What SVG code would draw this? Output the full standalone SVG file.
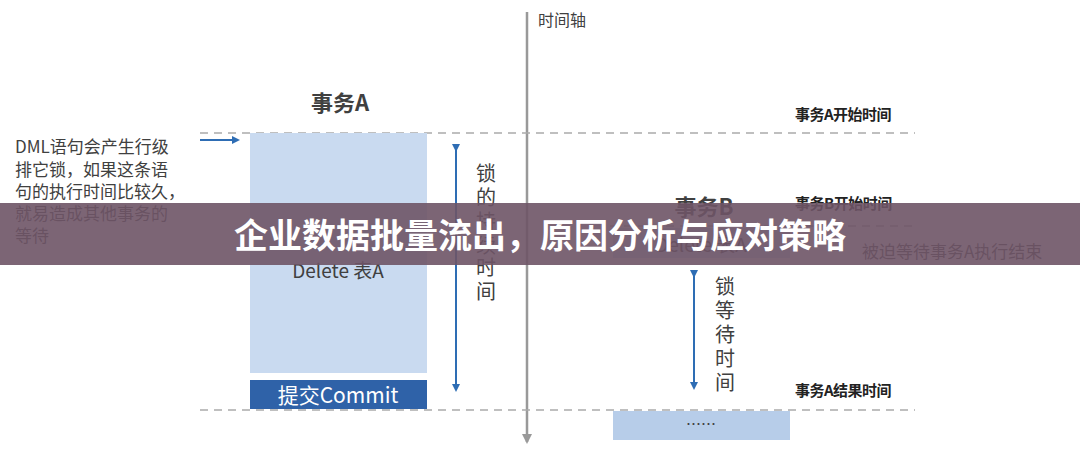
<svg xmlns="http://www.w3.org/2000/svg" width="1080" height="468" viewBox="0 0 1080 468">
<style>
text{font-family:"Noto Sans CJK SC","Liberation Sans",sans-serif;fill:#404040}
.lbl{font-size:15px;font-weight:bold;fill:#222;letter-spacing:-0.5px}
.dash{stroke:#aaa;stroke-width:1.5;stroke-dasharray:8 6;fill:none}
.note{font-size:17px}
.vt{font-size:20px}
</style>
<defs>
<marker id="ab" markerWidth="8" markerHeight="8" refX="6" refY="4" orient="auto" markerUnits="userSpaceOnUse"><path d="M0,0 L8,4 L0,8 z" fill="#2e6db4"/></marker>
<marker id="ag" markerWidth="10" markerHeight="10" refX="8" refY="5" orient="auto" markerUnits="userSpaceOnUse"><path d="M0,0 L10,5 L0,10 z" fill="#999"/></marker>
</defs>
<rect width="1080" height="468" fill="#fff"/>
<g id="connectors">
<line x1="527" y1="12" x2="527" y2="442" stroke="#999" stroke-width="2.5" marker-end="url(#ag)"/>
<line class="dash" x1="200" y1="133" x2="915" y2="133"/>
<line class="dash" x1="610" y1="226" x2="915" y2="226"/>
<line class="dash" x1="200" y1="410" x2="915" y2="410"/>
<line x1="200" y1="140" x2="238" y2="140" stroke="#2e6db4" stroke-width="2" marker-end="url(#ab)"/>
<line x1="456" y1="150" x2="456" y2="390" stroke="#2e6db4" stroke-width="2" marker-start="url(#ab)" marker-end="url(#ab)"/>
<line x1="694" y1="276" x2="694" y2="388" stroke="#2e6db4" stroke-width="2" marker-start="url(#ab)" marker-end="url(#ab)"/>
</g>
<g id="axis-label"><text x="538" y="26" font-size="16">时间轴</text></g>
<g id="labels">
<text class="lbl" x="795" y="120">事务A开始时间</text>
<text class="lbl" x="795" y="209">事务B开始时间</text>
<text class="lbl" x="795" y="396">事务A结果时间</text>
<text x="862" y="258" font-size="17">被迫等待事务A执行结束</text>
</g>
<g id="note">
<text class="note" x="15" y="153">DML语句会产生行级</text>
<text class="note" x="15" y="176">排它锁，如果这条语</text>
<text class="note" x="15" y="198">句的执行时间比较久，</text>
<text class="note" x="15" y="220">就易造成其他事务的</text>
<text class="note" x="15" y="242">等待</text>
</g>
<g id="txA">
<text x="340" y="111" font-size="22" font-weight="bold" fill="#222" text-anchor="middle">事务A</text>
<rect x="250" y="133" width="177" height="240" fill="#c9daf0"/>
<text x="338" y="278" font-size="19" text-anchor="middle">Delete 表A</text>
</g>
<g id="commit">
<rect x="250" y="380" width="177" height="29" fill="#2f62a8"/>
<text x="338" y="403" font-size="21" text-anchor="middle" style="fill:#fff">提交Commit</text>
</g>
<g id="lockA">
<text class="vt" x="486" y="181" text-anchor="middle">锁</text>
<text class="vt" x="486" y="205" text-anchor="middle">的</text>
<text class="vt" x="486" y="229" text-anchor="middle">持</text>
<text class="vt" x="486" y="253" text-anchor="middle">续</text>
<text class="vt" x="486" y="275" text-anchor="middle">时</text>
<text class="vt" x="486" y="299" text-anchor="middle">间</text>
</g>
<g id="txB">
<text x="704" y="215" font-size="22" font-weight="bold" fill="#222" text-anchor="middle">事务B</text>
<rect x="613" y="228" width="177" height="30" fill="#c9daf0"/>
<text x="701" y="252" font-size="19" text-anchor="middle">Delete 表A</text>
</g>
<g id="lockB">
<text class="vt" x="725" y="294" text-anchor="middle">锁</text>
<text class="vt" x="725" y="318" text-anchor="middle">等</text>
<text class="vt" x="725" y="342" text-anchor="middle">待</text>
<text class="vt" x="725" y="366" text-anchor="middle">时</text>
<text class="vt" x="725" y="390" text-anchor="middle">间</text>
</g>
<g id="boxB2">
<rect x="613" y="411" width="177" height="29" fill="#b7cde9"/>
<text x="701" y="430" font-size="15" text-anchor="middle">……</text>
</g>
<g id="banner">
<rect x="0" y="203" width="1080" height="62" fill="#6e5466" opacity="0.9"/>
<text x="540" y="248" font-size="34" font-weight="bold" text-anchor="middle" style="fill:#fff">企业数据批量流出，原因分析与应对策略</text>
</g>
</svg>
